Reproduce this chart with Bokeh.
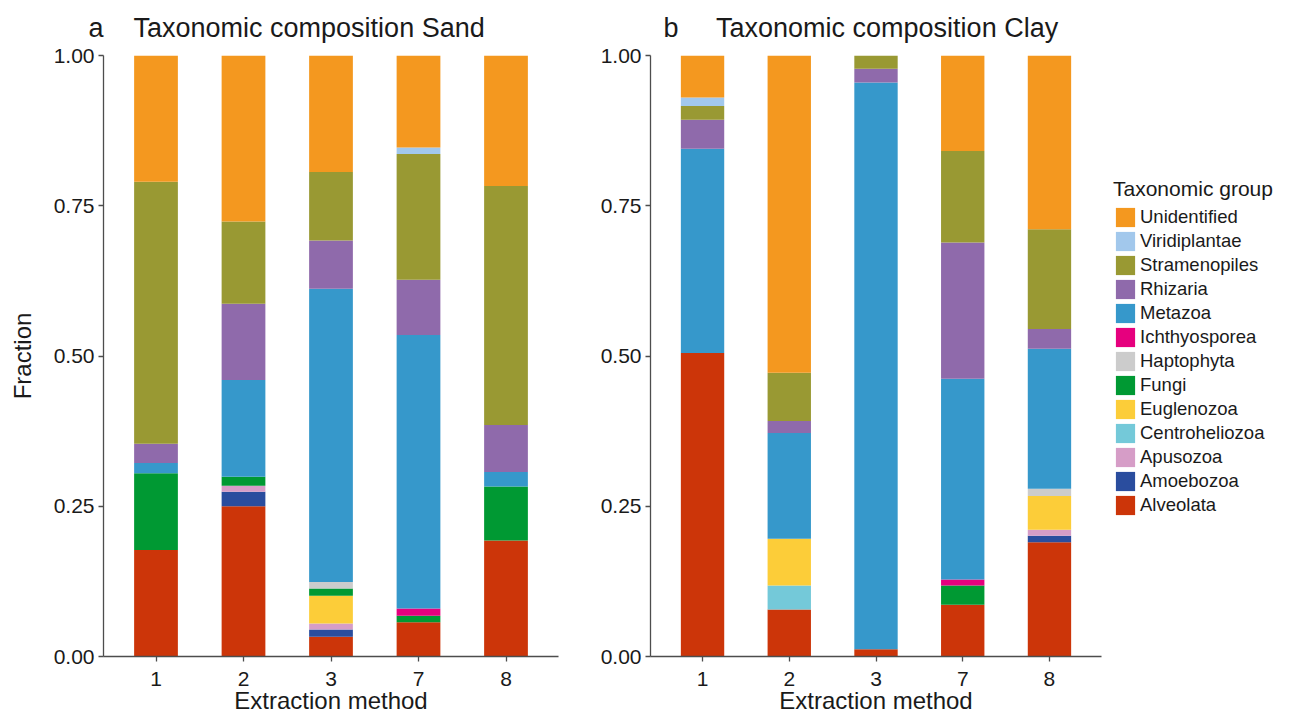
from bokeh.plotting import figure
from bokeh.models import (ColumnDataSource, FactorRange, Range1d, FixedTicker,
                          PrintfTickFormatter, Legend, LegendItem)
from bokeh.layouts import row
from bokeh.embed import file_html
from bokeh.resources import INLINE

FONT = "Liberation Sans"

methods = ["1", "2", "3", "7", "8"]

groups = ["Alveolata", "Amoebozoa", "Apusozoa", "Centroheliozoa", "Euglenozoa",
          "Fungi", "Haptophyta", "Ichthyosporea", "Metazoa", "Rhizaria",
          "Stramenopiles", "Viridiplantae", "Unidentified"]
group_colors = ["#CC3509", "#2A4D9E", "#D69DC7", "#74C9D9", "#FCCD39",
                "#009933", "#CCCCCC", "#E6007E", "#3698CB", "#8F6AAB",
                "#999933", "#A2C8EC", "#F4981F"]

# Sand: fractions per method (1, 2, 3, 7, 8)
sand_alveolata      = [0.177, 0.250, 0.033, 0.057, 0.193]
sand_amoebozoa      = [0.000, 0.024, 0.012, 0.000, 0.000]
sand_apusozoa       = [0.000, 0.010, 0.010, 0.000, 0.000]
sand_centroheliozoa = [0.000, 0.000, 0.000, 0.000, 0.000]
sand_euglenozoa     = [0.000, 0.000, 0.046, 0.000, 0.000]
sand_fungi          = [0.128, 0.015, 0.012, 0.011, 0.090]
sand_haptophyta     = [0.000, 0.000, 0.011, 0.000, 0.000]
sand_ichthyosporea  = [0.000, 0.000, 0.000, 0.012, 0.000]
sand_metazoa        = [0.017, 0.161, 0.488, 0.455, 0.024]
sand_rhizaria       = [0.032, 0.127, 0.080, 0.092, 0.078]
sand_stramenopiles  = [0.436, 0.137, 0.114, 0.209, 0.398]
sand_viridiplantae  = [0.000, 0.000, 0.000, 0.011, 0.000]
sand_unidentified   = [0.210, 0.276, 0.194, 0.153, 0.217]

# Clay: fractions per method (1, 2, 3, 7, 8)
clay_alveolata      = [0.505, 0.078, 0.012, 0.086, 0.190]
clay_amoebozoa      = [0.000, 0.000, 0.000, 0.000, 0.011]
clay_apusozoa       = [0.000, 0.000, 0.000, 0.000, 0.010]
clay_centroheliozoa = [0.000, 0.040, 0.000, 0.000, 0.000]
clay_euglenozoa     = [0.000, 0.078, 0.000, 0.000, 0.056]
clay_fungi          = [0.000, 0.000, 0.000, 0.032, 0.000]
clay_haptophyta     = [0.000, 0.000, 0.000, 0.000, 0.012]
clay_ichthyosporea  = [0.000, 0.000, 0.000, 0.010, 0.000]
clay_metazoa        = [0.340, 0.176, 0.943, 0.334, 0.233]
clay_rhizaria       = [0.048, 0.020, 0.023, 0.227, 0.033]
clay_stramenopiles  = [0.023, 0.080, 0.022, 0.152, 0.166]
clay_viridiplantae  = [0.014, 0.000, 0.000, 0.000, 0.000]
clay_unidentified   = [0.070, 0.528, 0.000, 0.159, 0.289]

sand_fracs = [sand_alveolata, sand_amoebozoa, sand_apusozoa, sand_centroheliozoa,
              sand_euglenozoa, sand_fungi, sand_haptophyta, sand_ichthyosporea,
              sand_metazoa, sand_rhizaria, sand_stramenopiles, sand_viridiplantae,
              sand_unidentified]
clay_fracs = [clay_alveolata, clay_amoebozoa, clay_apusozoa, clay_centroheliozoa,
              clay_euglenozoa, clay_fungi, clay_haptophyta, clay_ichthyosporea,
              clay_metazoa, clay_rhizaria, clay_stramenopiles, clay_viridiplantae,
              clay_unidentified]

AXIS_COLOR = "#4d4d4d"
TEXT_COLOR = "#1a1a1a"
NB = "\u00a0"


def make_source(fracs):
    data = {"method": methods}
    for g, vals in zip(groups, fracs):
        data[g] = vals
    return ColumnDataSource(data)


def build(fracs, title, title_offset, width, b_left, b_right, b_top, b_bottom):
    src = make_source(fracs)
    p = figure(x_range=FactorRange(*methods, range_padding=0.1,
                                   range_padding_units="absolute"),
               y_range=Range1d(0, 1), width=width, height=723,
               min_border_left=b_left, min_border_right=b_right,
               min_border_top=b_top, min_border_bottom=b_bottom,
               title=title,
               output_backend="svg", toolbar_location=None)
    rs = p.vbar_stack(groups, x="method", width=0.5, fill_color=group_colors,
                      line_color=None, source=src)
    p.title.align = "left"
    p.title.offset = title_offset
    p.title.text_font = FONT
    p.title.text_font_size = "27px"
    p.title.text_font_style = "normal"
    p.title.text_color = TEXT_COLOR
    p.title.vertical_align = "top"
    p.title.standoff = 21
    p.xgrid.grid_line_color = None
    p.ygrid.grid_line_color = None
    p.outline_line_color = None
    p.yaxis.ticker = FixedTicker(ticks=[0, 0.25, 0.5, 0.75, 1.0])
    p.yaxis.formatter = PrintfTickFormatter(format="%.2f")
    for ax in (p.xaxis[0], p.yaxis[0]):
        ax.axis_line_color = AXIS_COLOR
        ax.axis_line_width = 1.3
        ax.major_tick_line_color = AXIS_COLOR
        ax.major_tick_line_width = 1.3
        ax.major_tick_out = 5
        ax.major_tick_in = 0
        ax.minor_tick_line_color = None
        ax.major_label_text_font = FONT
        ax.major_label_text_font_size = "21px"
        ax.major_label_text_color = TEXT_COLOR
        ax.axis_label_text_font = FONT
        ax.axis_label_text_font_size = "24px"
        ax.axis_label_text_font_style = "normal"
        ax.axis_label_text_color = TEXT_COLOR
    p.xaxis.major_label_standoff = 10
    p.yaxis.major_label_standoff = 4
    p.xaxis.axis_label = "Extraction method"
    p.xaxis.axis_label_standoff = -2
    return p, rs


# Left panel: Sand
p1, _ = build(sand_fracs, "a" + NB * 4 + "Taxonomic composition Sand", -15,
              560, 103, 2, 55, 65)
p1.yaxis.axis_label = "Fraction"
p1.yaxis.axis_label_standoff = 15

# Right panel: Clay
p2, _ = build(clay_fracs, "b" + NB * 5 + "Taxonomic composition Clay", 13,
              545, 90, 4, 54, 67)

# Legend panel: same clay groups, drawn with zero width so only the key shows
p3 = figure(x_range=FactorRange(*methods), y_range=Range1d(0, 1),
            width=188, height=723, min_border=0,
            x_axis_location=None, y_axis_location=None,
            output_backend="svg", toolbar_location=None)
p3.xgrid.grid_line_color = None
p3.ygrid.grid_line_color = None
p3.outline_line_color = None
rs3 = p3.vbar_stack(groups, x="method", width=0, fill_color=group_colors,
                    line_color=None, source=make_source(clay_fracs))

items = [LegendItem(label=g, renderers=[r])
         for g, r in reversed(list(zip(groups, rs3)))]
legend = Legend(items=items, location=(8, 139), title="Taxonomic group",
                title_text_font=FONT, title_text_font_size="21px",
                title_text_color=TEXT_COLOR, title_text_font_style="normal",
                title_standoff=4,
                label_text_font=FONT, label_text_font_size="18.5px",
                label_text_color=TEXT_COLOR,
                glyph_width=24, glyph_height=24, label_height=24,
                label_standoff=3, spacing=0, padding=0, margin=0,
                border_line_color=None, background_fill_alpha=0)
p3.add_layout(legend, "center")

layout = row(p1, p2, p3)
open("out.html", "w").write(file_html(layout, INLINE))
